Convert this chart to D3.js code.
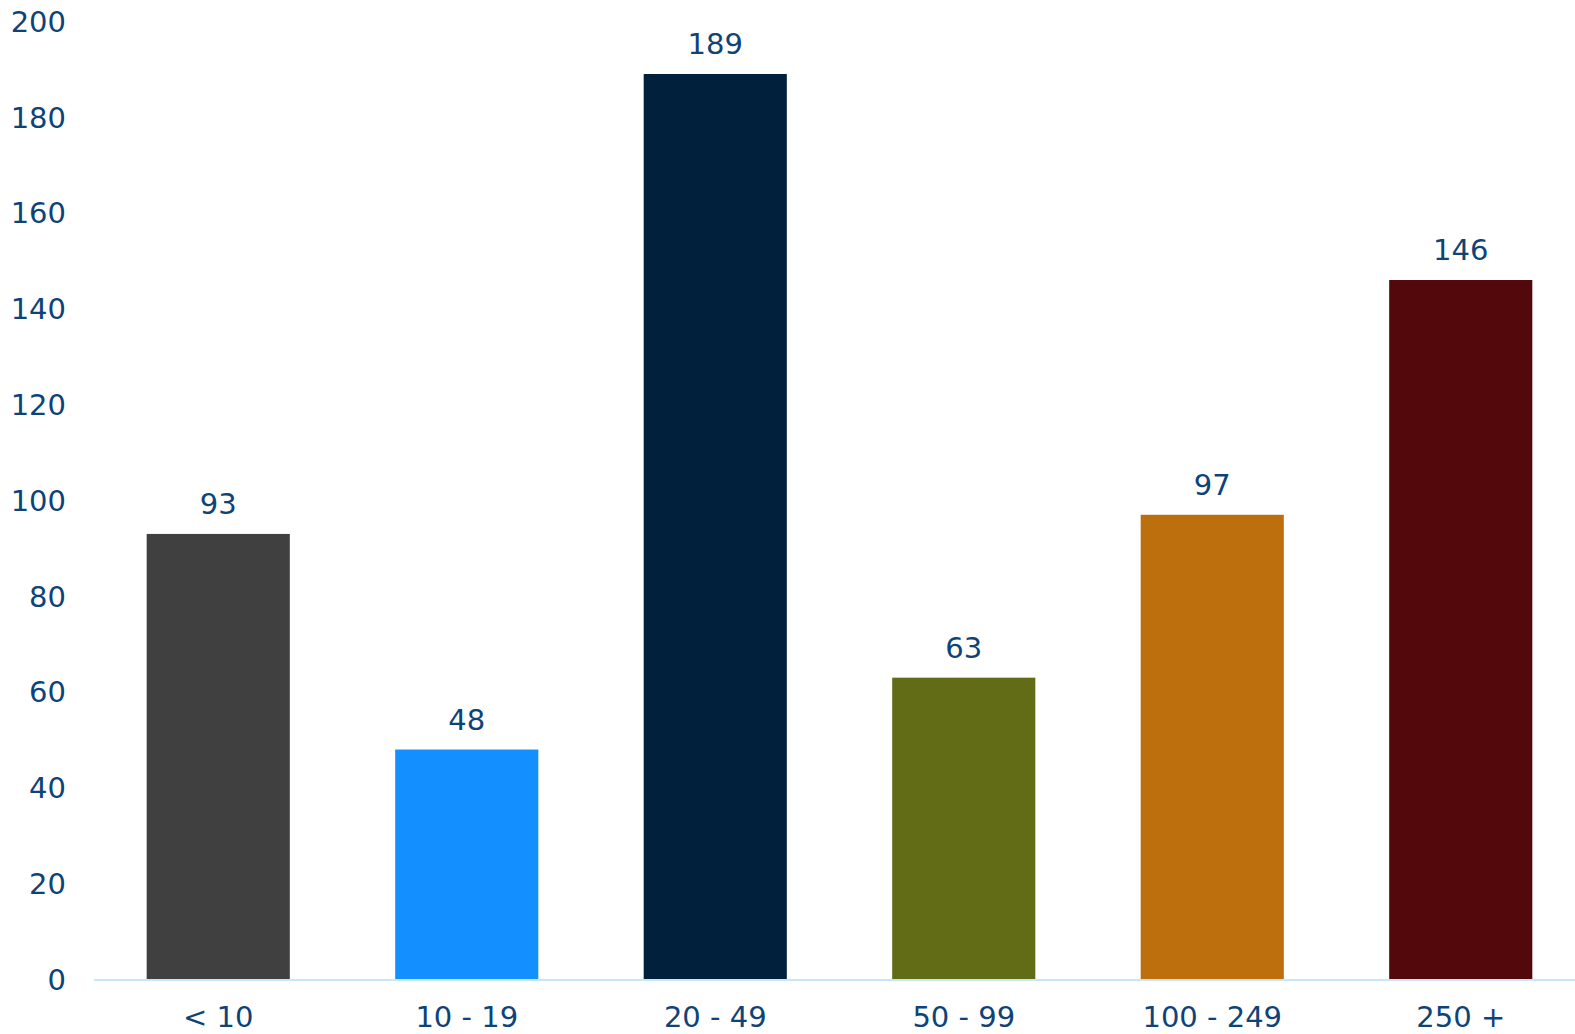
<!DOCTYPE html>
<html><head><meta charset="utf-8">
<script src="https://cdn.jsdelivr.net/npm/d3@7"></script>
<style>body{margin:0;background:#fff}svg{display:block}text{font-family:"DejaVu Sans",sans-serif}</style>
</head><body>
<script>
const categories = ["< 10","10 - 19","20 - 49","50 - 99","100 - 249","250 +"];
const values = [93,48,189,63,97,146];
const colors = ["#404040","#148FFF","#01203C","#626B16","#BE6F0D","#53080B"];
const yTicks = [0,20,40,60,80,100,120,140,160,180,200];

const W=1575,H=1034;
const svg=d3.select("body").append("svg").attr("width",W).attr("height",H);
const x=d3.scaleBand().domain(categories).range([94,1585]).paddingInner(0.424).paddingOuter(0.212);
const y=d3.scaleLinear().domain([0,200]).range([979.5,21.3]);
const txt="#0E4378";
const fs=29;

svg.append("g").selectAll("text").data(yTicks).join("text")
  .attr("x",66).attr("y",d=>y(d)).attr("dy","0.36em").attr("text-anchor","end")
  .attr("fill",txt).attr("font-size",fs).text(d=>d);

svg.append("g").selectAll("rect").data(values).join("rect")
  .attr("x",(d,i)=>x(categories[i])).attr("width",x.bandwidth())
  .attr("y",d=>y(d)).attr("height",d=>y(0)-y(d)).attr("fill",(d,i)=>colors[i]);

svg.append("line").attr("x1",94).attr("x2",W).attr("y1",y(0)+0.5).attr("y2",y(0)+0.5)
  .attr("stroke","#C8E6FA").attr("stroke-width",2);

svg.append("g").selectAll("text").data(values).join("text")
  .attr("x",(d,i)=>x(categories[i])+x.bandwidth()/2).attr("y",d=>y(d)-20)
  .attr("text-anchor","middle").attr("fill",txt).attr("font-size",fs).text(d=>d);

svg.append("g").selectAll("text").data(categories).join("text")
  .attr("x",d=>x(d)+x.bandwidth()/2).attr("y",1027)
  .attr("text-anchor","middle").attr("fill",txt).attr("font-size",fs).text(d=>d);
</script>
</body></html>
